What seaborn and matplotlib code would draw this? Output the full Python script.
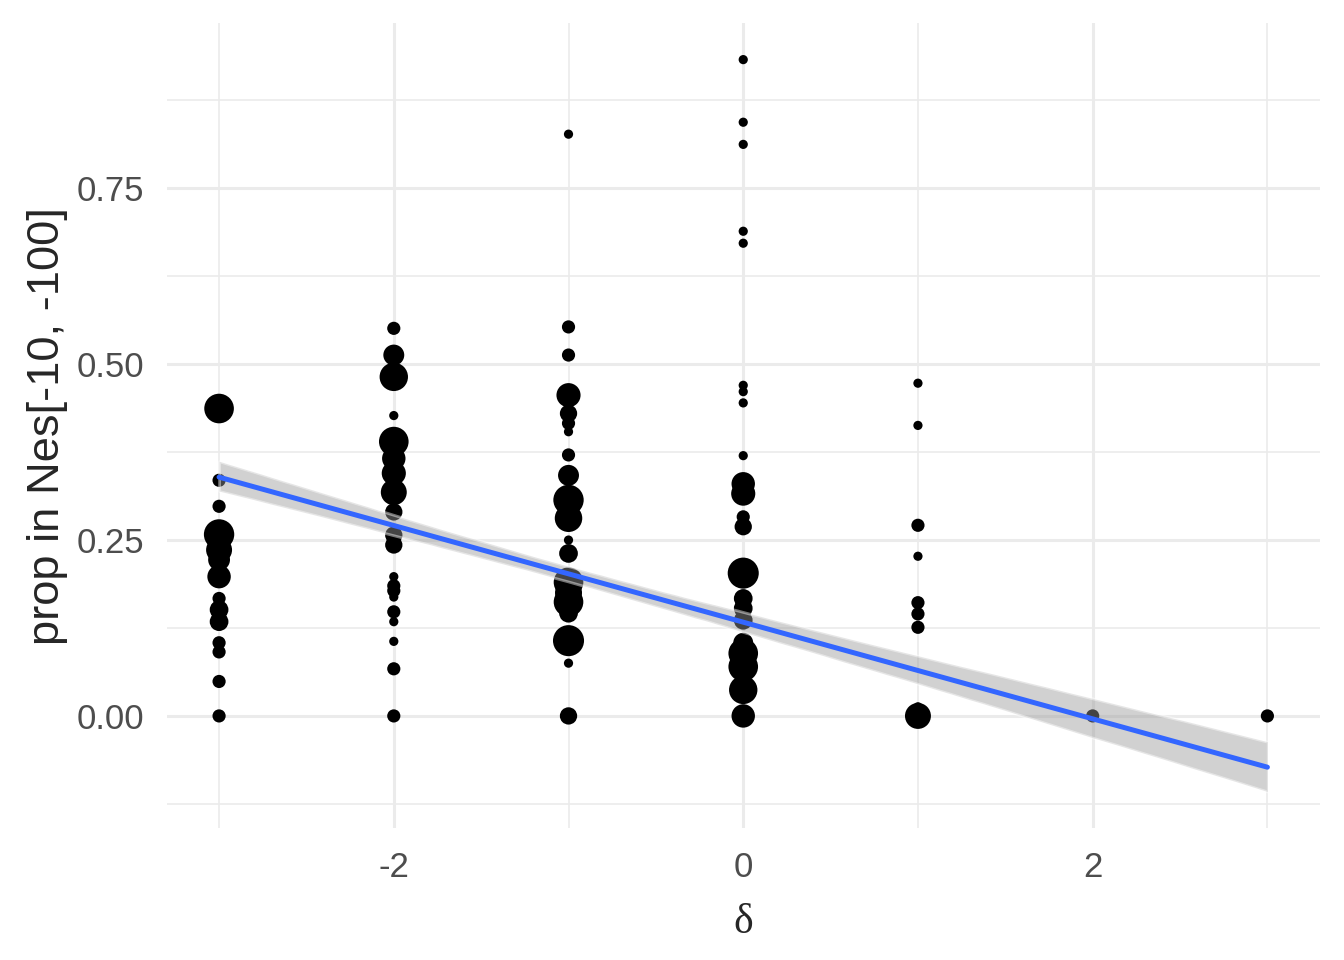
import numpy as np
import pandas as pd
import seaborn as sns
import matplotlib.pyplot as plt

# values, one list per delta column
# (prop, n) -- n is the weight behind each dot (dot area grows with it)
col_m3 = [(0.437, 22), (0.335, 2), (0.298, 2), (0.258, 24), (0.236, 14), (0.222, 8),
          (0.198, 10), (0.167, 2), (0.151, 5), (0.134, 5), (0.104, 2), (0.091, 2),
          (0.049, 2), (0.000, 2)]
col_m2 = [(0.551, 2), (0.513, 7), (0.482, 19), (0.427, 1), (0.390, 22), (0.366, 10),
          (0.345, 11), (0.318, 14), (0.290, 4), (0.257, 4), (0.243, 4), (0.198, 1),
          (0.185, 2), (0.178, 2), (0.169, 1), (0.148, 2), (0.134, 1), (0.106, 1),
          (0.067, 2), (0.000, 2)]
col_m1 = [(0.827, 1), (0.553, 2), (0.513, 2), (0.456, 11), (0.430, 4), (0.416, 2),
          (0.404, 1), (0.371, 2), (0.342, 7), (0.307, 24), (0.281, 17), (0.250, 1),
          (0.231, 5), (0.190, 22), (0.175, 16), (0.162, 22), (0.146, 5), (0.107, 26),
          (0.075, 1), (0.000, 4)]
col_0 = [(0.933, 1), (0.844, 1), (0.8125, 1), (0.689, 1), (0.672, 1), (0.470, 1),
         (0.461, 1), (0.445, 1), (0.370, 1), (0.330, 10), (0.316, 11), (0.283, 2),
         (0.269, 4), (0.203, 26), (0.167, 5), (0.153, 5), (0.136, 5), (0.104, 6),
         (0.089, 22), (0.070, 22), (0.037, 19), (0.000, 10)]
col_p1 = [(0.473, 1), (0.413, 1), (0.271, 2), (0.227, 1), (0.161, 2), (0.145, 2),
          (0.126, 2), (0.013, 1), (0.000, 14)]
col_p2 = [(0.000, 2)]
col_p3 = [(0.000, 2)]

# several observations sit exactly on prop = 0 and are hidden under one dot
stacked_zero = {0: 11, 1: 2}

columns = {-3: col_m3, -2: col_m2, -1: col_m1, 0: col_0, 1: col_p1, 2: col_p2, 3: col_p3}

rows = []
for d, pts in columns.items():
    for prop, n in pts:
        k = stacked_zero.get(d, 1) if prop == 0 else 1
        rows.append({"delta": d, "prop": prop, "n": n, "k": k})
df = pd.DataFrame(rows)
df["size"] = np.sqrt(df["n"])  # dot diameter grows with sqrt(n), like ggplot

# weighted fit: repeat each observation by its weight
df_w = df.loc[df.index.repeat(df["n"] * df["k"])].reset_index(drop=True)

sns.set_theme(style="white")
plt.rcParams["font.family"] = ["Liberation Sans", "DejaVu Sans"]

fig, ax = plt.subplots(figsize=(6.72, 4.8), dpi=200)
fig.subplots_adjust(left=0.124, right=0.982, top=0.976, bottom=0.137)

sns.scatterplot(data=df, x="delta", y="prop", size="size", sizes=(11, 125),
                size_norm=(1, np.sqrt(26)), color="black", edgecolor="none",
                legend=False, ax=ax, zorder=3)

sns.regplot(data=df_w, x="delta", y="prop", scatter=False, ci=95, seed=1,
            color="#3366FF", line_kws={"linewidth": 1.8, "zorder": 5}, ax=ax)
band = ax.collections[-1]
band.set_facecolor("#999999")
band.set_alpha(0.45)
band.set_zorder(4)

ax.set_xlim(-3.3, 3.3)
ax.set_ylim(-0.16, 0.985)
ax.set_xticks([-2, 0, 2])
ax.set_xticklabels(["-2", "0", "2"])
ax.set_yticks([0, 0.25, 0.5, 0.75])
ax.set_yticklabels(["0.00", "0.25", "0.50", "0.75"])
ax.set_xticks([-3, -1, 1, 3], minor=True)
ax.set_yticks([-0.125, 0.125, 0.375, 0.625, 0.875], minor=True)

ax.grid(which="major", color="#EBEBEB", linewidth=1.1)
ax.grid(which="minor", color="#EBEBEB", linewidth=0.6)
ax.set_axisbelow(True)
for s in ax.spines.values():
    s.set_visible(False)
ax.tick_params(which="both", length=0, labelsize=12.5, labelcolor="#4D4D4D")
ax.tick_params(axis="x", pad=8)
ax.tick_params(axis="y", pad=8)

ax.set_xlabel("δ", family="Liberation Serif", fontsize=15, labelpad=7)
ax.set_ylabel("prop in Nes[-10, -100]", fontsize=16.3, labelpad=3)

plt.savefig("out.png", dpi=200)
